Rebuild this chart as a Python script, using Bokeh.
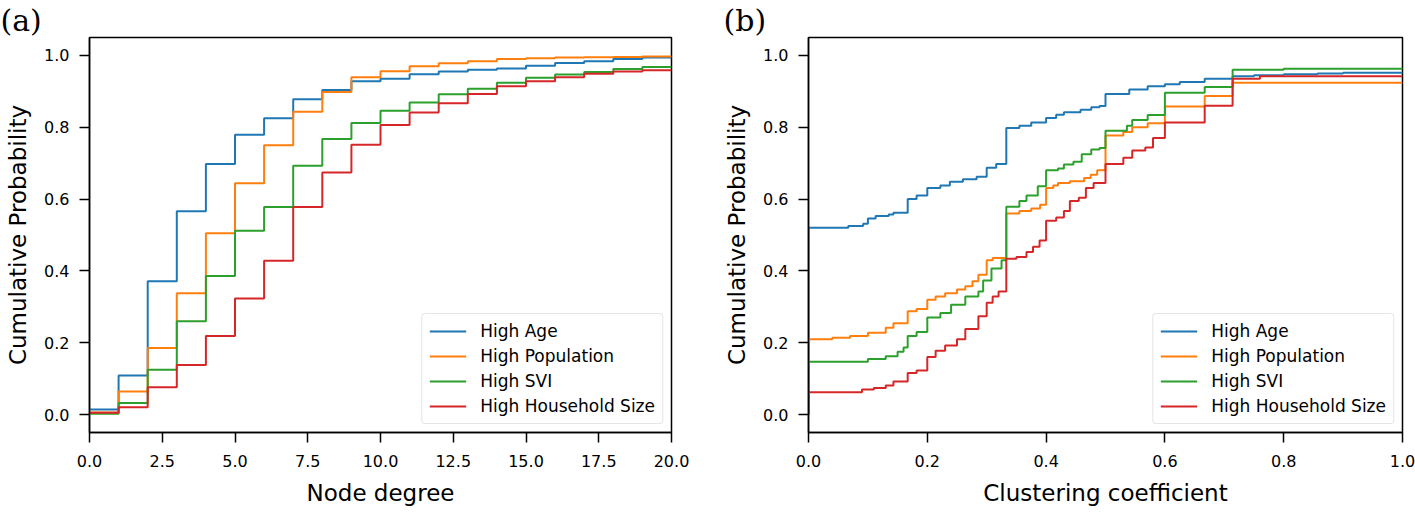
from bokeh.plotting import figure
from bokeh.layouts import row
from bokeh.models import FixedTicker, PrintfTickFormatter, Range1d
from bokeh.embed import file_html
from bokeh.resources import INLINE

# ---------------- data ----------------
series_names = ["High Age", "High Population", "High SVI", "High Household Size"]
colors = ["#1f77b4", "#ff7f0e", "#2ca02c", "#d62728"]

# (a) node degree CDF, value on [k, k+1) for k = 0..19
degree_x = list(range(0, 21))
deg_age = [0.014, 0.109, 0.371, 0.566, 0.698, 0.779, 0.825, 0.878, 0.904, 0.928,
           0.935, 0.948, 0.955, 0.960, 0.964, 0.971, 0.979, 0.984, 0.990, 0.994]
deg_pop = [0.006, 0.064, 0.185, 0.338, 0.505, 0.644, 0.750, 0.843, 0.898, 0.939,
           0.956, 0.970, 0.978, 0.984, 0.990, 0.992, 0.994, 0.995, 0.996, 0.997]
deg_svi = [0.002, 0.032, 0.125, 0.260, 0.386, 0.512, 0.578, 0.693, 0.767, 0.812,
           0.846, 0.869, 0.892, 0.907, 0.924, 0.938, 0.947, 0.954, 0.962, 0.968]
deg_hh = [0.005, 0.020, 0.076, 0.138, 0.219, 0.323, 0.428, 0.578, 0.674, 0.751,
          0.806, 0.841, 0.867, 0.893, 0.914, 0.928, 0.939, 0.949, 0.955, 0.959]

# (b) clustering coefficient CDF (step positions and levels)
cc_age_x = [0, 0, 0.067, 0.092, 0.100, 0.113, 0.135, 0.143, 0.167, 0.182, 0.200, 0.222,
            0.238, 0.260, 0.283, 0.300, 0.316, 0.333, 0.355, 0.375, 0.400, 0.417, 0.430,
            0.458, 0.476, 0.490, 0.500, 0.540, 0.571, 0.600, 0.625, 0.667, 0.714, 0.750,
            0.800, 0.857, 0.900, 1.0]
cc_age_y = [0, 0.520, 0.525, 0.531, 0.546, 0.553, 0.557, 0.562, 0.600, 0.610, 0.631, 0.638,
            0.648, 0.655, 0.662, 0.687, 0.698, 0.798, 0.804, 0.813, 0.826, 0.835, 0.842,
            0.849, 0.856, 0.859, 0.893, 0.905, 0.914, 0.920, 0.926, 0.935, 0.942, 0.945,
            0.948, 0.950, 0.952, 0.953]

cc_pop_x = [0, 0, 0.040, 0.070, 0.100, 0.130, 0.143, 0.167, 0.182, 0.200, 0.214, 0.230,
            0.250, 0.264, 0.276, 0.286, 0.300, 0.310, 0.333, 0.355, 0.375, 0.390, 0.400,
            0.412, 0.420, 0.440, 0.464, 0.475, 0.486, 0.500, 0.530, 0.545, 0.571, 0.600,
            0.667, 0.714, 1.0]
cc_pop_y = [0, 0.210, 0.214, 0.219, 0.228, 0.242, 0.254, 0.288, 0.294, 0.320, 0.329, 0.338,
            0.348, 0.357, 0.371, 0.389, 0.430, 0.436, 0.560, 0.567, 0.574, 0.584, 0.631,
            0.638, 0.645, 0.650, 0.659, 0.668, 0.680, 0.777, 0.787, 0.800, 0.811, 0.858,
            0.887, 0.924, 0.924]

cc_svi_x = [0, 0, 0.100, 0.130, 0.150, 0.160, 0.167, 0.182, 0.200, 0.222, 0.240, 0.264,
            0.286, 0.294, 0.308, 0.325, 0.333, 0.355, 0.367, 0.386, 0.400, 0.420, 0.430,
            0.446, 0.460, 0.476, 0.490, 0.500, 0.536, 0.545, 0.571, 0.600, 0.667, 0.714,
            0.800, 1.0]
cc_svi_y = [0, 0.147, 0.155, 0.162, 0.175, 0.187, 0.219, 0.230, 0.270, 0.283, 0.306, 0.329,
            0.343, 0.373, 0.407, 0.430, 0.579, 0.595, 0.610, 0.636, 0.680, 0.685, 0.696,
            0.704, 0.725, 0.738, 0.742, 0.790, 0.804, 0.820, 0.834, 0.896, 0.912, 0.960,
            0.963, 0.965]

cc_hh_x = [0, 0, 0.090, 0.110, 0.130, 0.143, 0.167, 0.182, 0.200, 0.214, 0.230, 0.250,
           0.264, 0.286, 0.300, 0.310, 0.320, 0.333, 0.350, 0.367, 0.378, 0.389, 0.400,
           0.417, 0.430, 0.440, 0.455, 0.467, 0.480, 0.500, 0.530, 0.545, 0.567, 0.580,
           0.600, 0.667, 0.714, 0.760, 1.0]
cc_hh_y = [0, 0.062, 0.070, 0.074, 0.081, 0.092, 0.116, 0.123, 0.160, 0.178, 0.192, 0.210,
           0.238, 0.274, 0.311, 0.329, 0.343, 0.434, 0.439, 0.453, 0.467, 0.485, 0.540,
           0.549, 0.567, 0.595, 0.604, 0.631, 0.645, 0.698, 0.715, 0.735, 0.744, 0.770,
           0.813, 0.860, 0.935, 0.942, 0.942]

x_ticks_a = [0, 2.5, 5, 7.5, 10, 12.5, 15, 17.5, 20]
x_ticks_b = [0, 0.2, 0.4, 0.6, 0.8, 1.0]
y_ticks = [0, 0.2, 0.4, 0.6, 0.8, 1.0]

SANS = "DejaVu Sans"


def style(p, xlabel, xticks, tag, tag_offset):
    p.outline_line_color = "black"
    p.outline_line_width = 1.5
    p.outline_line_alpha = 1
    p.xgrid.visible = False
    p.ygrid.visible = False
    for ax in (p.xaxis[0], p.yaxis[0]):
        ax.axis_line_color = "black"
        ax.axis_line_width = 1.5
        ax.major_tick_line_color = "black"
        ax.major_tick_line_width = 1.5
        ax.major_tick_in = 0
        ax.major_tick_out = 10
        ax.minor_tick_line_color = None
        ax.major_label_text_font = SANS
        ax.major_label_text_font_size = "16px"
        ax.major_label_text_color = "black"
        ax.axis_label_text_font = SANS
        ax.axis_label_text_font_size = "23px"
        ax.axis_label_text_font_style = "normal"
        ax.axis_label_text_color = "black"
        ax.formatter = PrintfTickFormatter(format="%.1f")
    p.xaxis[0].ticker = FixedTicker(ticks=xticks)
    p.yaxis[0].ticker = FixedTicker(ticks=y_ticks)
    p.xaxis[0].axis_label = xlabel
    p.yaxis[0].axis_label = "Cumulative Probability"
    p.xaxis[0].major_label_standoff = 12
    p.yaxis[0].major_label_standoff = 10
    p.xaxis[0].axis_label_standoff = 10
    p.yaxis[0].axis_label_standoff = 10

    # panel tag "(a)" / "(b)" as the title, pulled to the left edge
    p.title.text = tag
    p.title.align = "left"
    p.title.offset = tag_offset
    p.title.standoff = 0
    p.title.text_font = "DejaVu Serif"
    p.title.text_font_size = "30px"
    p.title.text_line_height = 0.8
    p.title.text_font_style = "normal"
    p.title.text_color = "black"

    lg = p.legend[0]
    lg.location = "bottom_right"
    lg.margin = 8
    lg.padding = 7
    lg.spacing = 5
    lg.glyph_width = 37
    lg.glyph_height = 20
    lg.label_height = 20
    lg.label_standoff = 14
    lg.label_text_font = SANS
    lg.label_text_font_size = "17px"
    lg.label_text_color = "black"
    lg.border_line_color = "#cccccc"
    lg.border_line_width = 1
    lg.background_fill_alpha = 0.8
    try:
        lg.border_radius = 4
    except Exception:
        pass


# ---------------- panel (a) ----------------
p1 = figure(width=712, height=512, output_backend="svg", toolbar_location=None,
            x_range=Range1d(0, 20), y_range=Range1d(-0.05, 1.05),
            min_border_left=89, min_border_right=41, min_border_top=33,
            min_border_bottom=80)
for vals, name, col in zip([deg_age, deg_pop, deg_svi, deg_hh], series_names, colors):
    p1.step(degree_x, vals + [vals[-1]], mode="after", line_color=col,
            line_width=2, legend_label=name)
style(p1, "Node degree", x_ticks_a, "(a)", -89)

# ---------------- panel (b) ----------------
p2 = figure(width=703, height=512, output_backend="svg", toolbar_location=None,
            x_range=Range1d(0, 1), y_range=Range1d(-0.05, 1.05),
            min_border_left=96, min_border_right=13, min_border_top=33,
            min_border_bottom=80)
for xs, ys, name, col in zip([cc_age_x, cc_pop_x, cc_svi_x, cc_hh_x],
                             [cc_age_y, cc_pop_y, cc_svi_y, cc_hh_y],
                             series_names, colors):
    p2.step(xs, ys, mode="after", line_color=col, line_width=2, legend_label=name)
style(p2, "Clustering coefficient", x_ticks_b, "(b)", -85)

layout = row(p1, p2)
open("out.html", "w").write(file_html(layout, INLINE))
